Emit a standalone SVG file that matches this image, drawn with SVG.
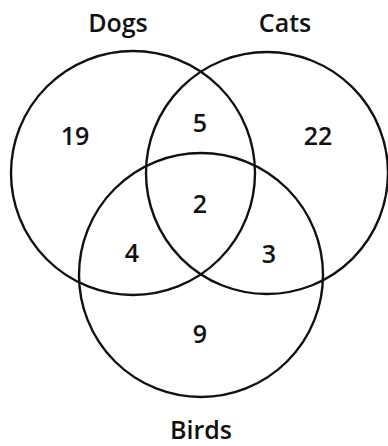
<svg xmlns="http://www.w3.org/2000/svg" width="388" height="446" viewBox="0 0 388 446">
<style>
.c{fill:none;stroke:#111;stroke-width:2.4}
.t{font-family:"Open Sans","Noto Sans",sans-serif;font-size:25px;font-weight:600;fill:#111;text-anchor:middle}
</style>
<rect width="388" height="446" fill="#fff"/>
<g id="dogs"><circle class="c" cx="133" cy="173" r="122"/><text class="t" x="118" y="32">Dogs</text></g>
<g id="cats"><circle class="c" cx="267" cy="173" r="121"/><text class="t" x="285" y="32">Cats</text></g>
<g id="birds"><circle class="c" cx="201" cy="275" r="122"/><text class="t" x="201" y="439">Birds</text></g>
<g id="counts">
<text class="t" x="75" y="145">19</text>
<text class="t" x="200" y="132">5</text>
<text class="t" x="318" y="145">22</text>
<text class="t" x="200" y="213">2</text>
<text class="t" x="132" y="262">4</text>
<text class="t" x="269" y="263">3</text>
<text class="t" x="200" y="343">9</text>
</g>
</svg>
